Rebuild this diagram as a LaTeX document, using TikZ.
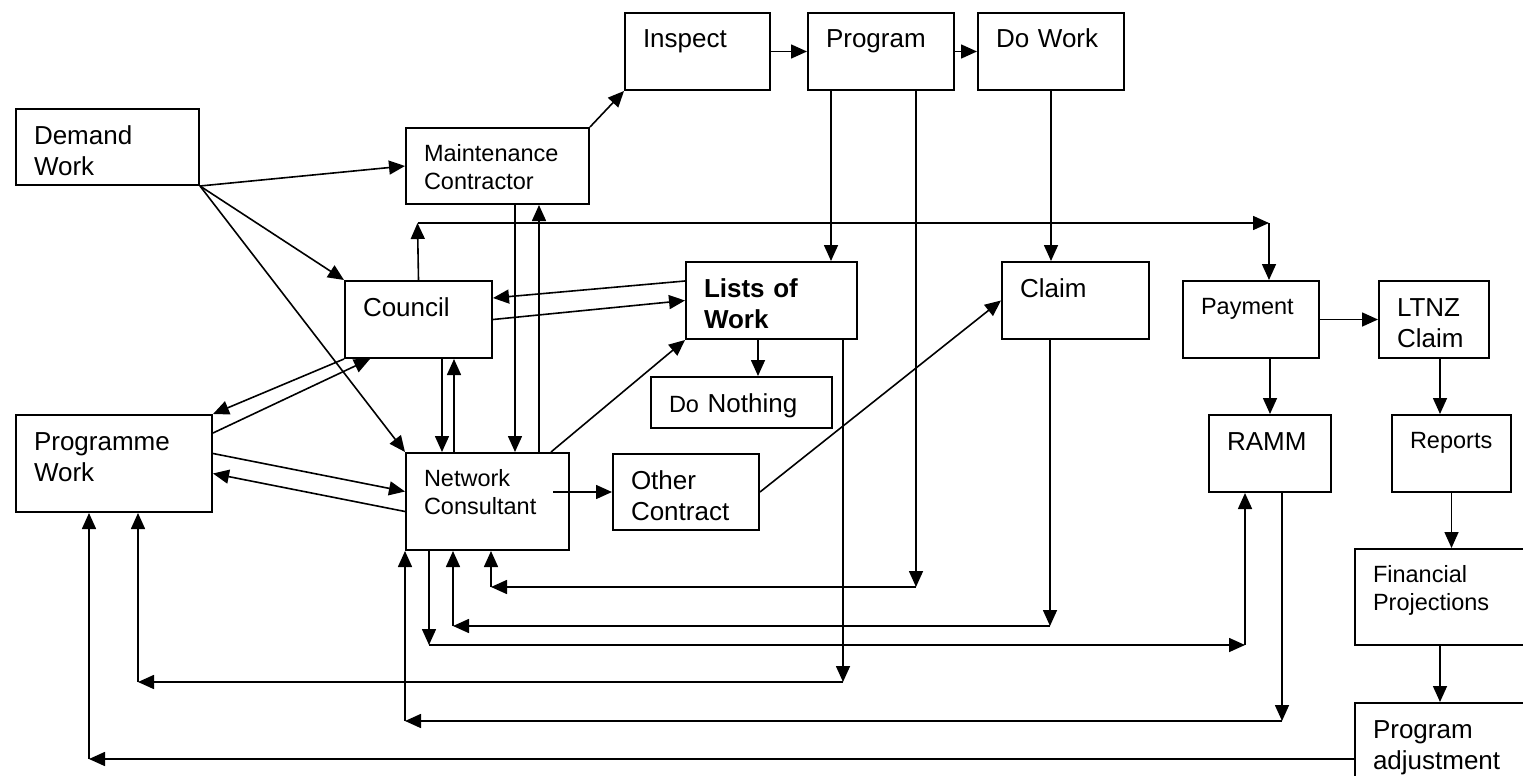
\documentclass[tikz,border=0pt]{standalone}
\usepackage{fontspec}
\setmainfont{Liberation Sans}
\usetikzlibrary{arrows.meta}

\begin{document}
\begin{tikzpicture}[
	x=1pt, y=-1pt,
	>={Triangle[length=16pt,width=14pt]},
	box/.style={
		rectangle,
		draw=black,
		line width=2pt,
		anchor=north west,
		align=left,
		inner xsep=18pt,
		inner ysep=0pt,
		text height=35pt,
		font=\fontsize{26pt}{31pt}\selectfont
	},
	small/.style={
		text height=33pt,
		font=\fontsize{23.5pt}{28pt}\selectfont
	},
	bold/.style={
		font=\fontsize{26pt}{31pt}\selectfont\bfseries
	},
	link/.style={
		line width=1.6pt,
		->
	},
]

\useasboundingbox (0,0) rectangle (1523,776);

\node[box, text width=147pt, text depth=41pt] (dw) at (15,108) {Demand\\Work};
\node[box, small, text width=147pt, text depth=43pt] (mc) at (405,127) {Maintenance\\Contractor};

\node[box, text width=109pt, text depth=42pt] (insp) at (624,12) {Inspect};
\node[box, text width=110pt, text depth=42pt] (prog) at (807,12) {Program};
\node[box, text width=110pt, text depth=42pt] (dowk) at (977,12) {Do Work};

\node[box, text width=111pt, text depth=42pt] (coun) at (344,280) {Council};
\node[box, bold, text width=135pt, text depth=42pt] (lists) at (685,261) {Lists of\\Work};
\node[box, text width=145pt, text depth=16pt] (nothing) at (650,376) {{\fontsize{23.5pt}{28pt}\selectfont Do} Nothing};
\node[box, text width=111pt, text depth=42pt] (claim) at (1001,261) {Claim};
\node[box, small, text width=100pt, text depth=44pt] (pay) at (1182,280) {Payment};
\node[box, text width=74pt, text depth=42pt] (ltnz) at (1378,280) {LTNZ\\Claim};

\node[box, text width=160pt, text depth=62pt] (pw) at (15,414) {Programme\\Work};
\node[box, small, text width=127pt, text depth=64pt] (nc) at (405,452) {Network\\Consultant};
\node[box, text width=110pt, text depth=41pt] (other) at (612,453) {Other\\Contract};
\node[box, text width=86pt, text depth=42pt] (ramm) at (1208,414) {RAMM};
\node[box, small, text width=83pt, text depth=44pt] (rep) at (1391,414) {Reports};
\node[box, small, text width=164pt, text depth=63pt] (fin) at (1354,548) {Financial\\Projections};
\node[box, text width=164pt, text depth=65pt] (adj) at (1354,702) {Program\\adjustment};

% corners of the return lines
\coordinate (j1) at (417.5,223);
\coordinate (j2) at (1269,223);
\coordinate (h1) at (916,587);
\coordinate (h2) at (491,587);
\coordinate (z1) at (1050,626);
\coordinate (z2) at (453,626);
\coordinate (a1) at (429,645);
\coordinate (a2) at (1245,645);
\coordinate (n1) at (843,682);
\coordinate (n2) at (138,682);
\coordinate (b1) at (1282,721);
\coordinate (b2) at (405,721);
\coordinate (p1) at (89,759);

\draw[link] (dw.south east) -- (mc.west);
\draw[link] (dw.south east) -- (coun.north west);
\draw[link] (dw.south east) -- (nc.north west);

\draw[link] (mc.north east) -- (insp.south west);
\draw[link] (insp.east) -- (prog.west);
\draw[link] (prog.east) -- (dowk.west);

\draw[link] ([xshift=24pt]prog.south west) -- ([xshift=24pt]prog.south west |- lists.north);
\draw[link] (dowk.south) -- (dowk.south |- claim.north);

\draw[link] (coun.north) -- (j1);
\draw[link] (j1) -- (j2);
\draw[link] (j2) -- (j2 |- pay.north);

\draw[link] ([yshift=-20pt]lists.north west) -- ([yshift=-18pt]coun.north east);
\draw[link] (coun.east) -- (lists.west);
\draw[link] ([xshift=73pt]lists.south west) -- ([xshift=73pt]lists.south west |- nothing.north);

\draw[link] (coun.south west) -- (pw.north east);
\draw[link] ([yshift=-19pt]pw.north east) -- ([xshift=26pt]coun.south west);
\draw[link] ([yshift=10pt]pw.east) -- ([yshift=10pt]nc.west);
\draw[link] ([yshift=-10pt]nc.west) -- ([yshift=-10pt]pw.east);

\draw[link] ([xshift=98pt]coun.south west) -- ([xshift=98pt]coun.south west |- nc.north);
\draw[link] ([xshift=49pt]nc.north west) -- ([xshift=49pt]nc.north west |- coun.south);
\draw[link] ([xshift=110pt]mc.south west) -- ([xshift=110pt]mc.south west |- nc.north);
\draw[link] ([xshift=134pt]nc.north west) -- ([xshift=134pt]nc.north west |- mc.south);
\draw[link] ([xshift=146pt]nc.north west) -- (lists.south west);

\draw[link] ([xshift=-17pt]nc.east |- other.west) -- (other.west);
\draw[link] (other.east) -- (claim.west);

\draw[link] (pay.east) -- (ltnz.west);
\draw[link] (ramm.north |- pay.south) -- (ramm.north);
\draw[link] ([xshift=49pt]rep.north west |- ltnz.south) -- ([xshift=49pt]rep.north west);
\draw[link] (rep.south) -- (rep.south |- fin.north);
\draw[link] ([xshift=86pt]fin.south west) -- ([xshift=86pt]fin.south west |- adj.north);

% back to the consultant
\draw[link] (prog.south -| h1) -- (h1);
\draw[link] (h1) -- (h2);
\draw[link] (h2) -- (h2 |- nc.south);

\draw[link] (claim.south -| z1) -- (z1);
\draw[link] (z1) -- (z2);
\draw[link] (z2) -- (z2 |- nc.south);

\draw[link] (nc.south -| a1) -- (a1);
\draw[link] (a1) -- (a2);
\draw[link] (a2) -- (a2 |- ramm.south);

\draw[link] (ramm.south -| b1) -- (b1);
\draw[link] (b1) -- (b2);
\draw[link] (b2) -- (nc.south west);

% back to programme work
\draw[link] (lists.south -| n1) -- (n1);
\draw[link] (n1) -- (n2);
\draw[link] (n2) -- (n2 |- pw.south);

\draw[link] (adj.west |- p1) -- (p1);
\draw[link] (p1) -- (p1 |- pw.south);

\end{tikzpicture}
\end{document}
